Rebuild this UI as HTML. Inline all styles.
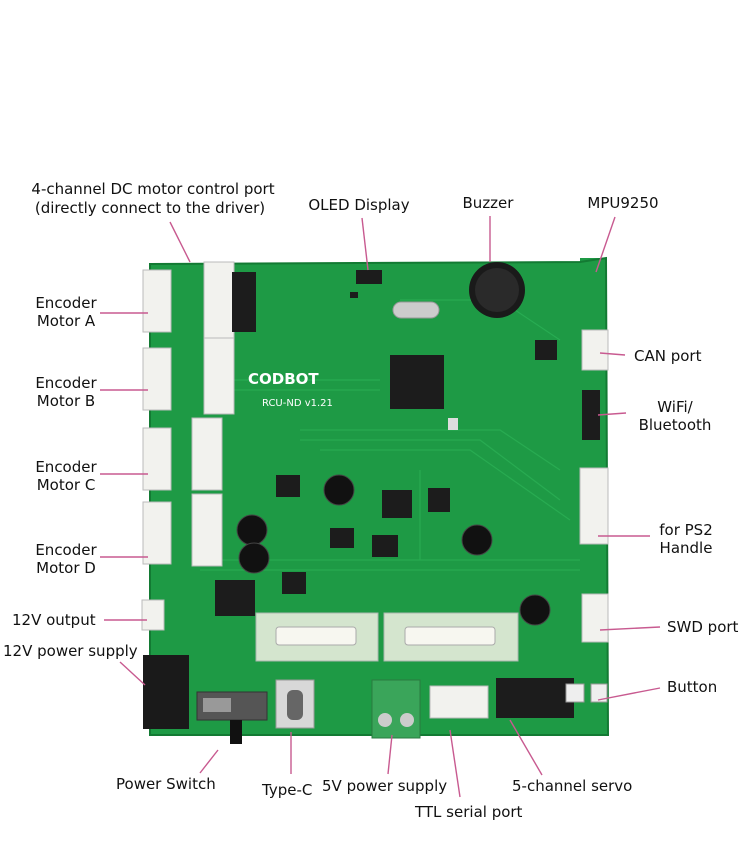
<!DOCTYPE html>
<html><head><meta charset="utf-8"><style>
html,body{margin:0;padding:0;background:#fff;}
svg{display:block}
text{font-family:"DejaVu Sans","Liberation Sans",sans-serif;font-size:15px;fill:#111}
</style></head><body>
<svg width="750" height="863" viewBox="0 0 750 863" xmlns="http://www.w3.org/2000/svg">
<rect width="750" height="863" fill="#fff"/>
<path d="M150 264 L580 262 L580 258 L606 258 L608 735 L150 735 Z" fill="#1e9a45"/>
<path d="M150 264 L580 262 L606 258 L608 735 L150 735 Z" fill="none" stroke="#137a33" stroke-width="2"/>
<g stroke="#2bb055" stroke-width="1.2" fill="none" opacity="0.8">
<path d="M300 430 L500 430 L560 470"/><path d="M300 440 L480 440 L560 500"/><path d="M320 450 L470 450 L570 520"/>
<path d="M220 380 L380 380"/><path d="M220 390 L380 390"/><path d="M400 300 L500 300 L560 340"/>
<path d="M200 560 L580 560"/><path d="M200 570 L580 570"/><path d="M420 470 L420 560"/>
</g>
<g fill="#f2f2ee" stroke="#bbb">
<rect x="143" y="270" width="28" height="62"/><rect x="143" y="348" width="28" height="62"/>
<rect x="143" y="428" width="28" height="62"/><rect x="143" y="502" width="28" height="62"/>
<rect x="204" y="262" width="30" height="76"/><rect x="204" y="338" width="30" height="76"/>
<rect x="192" y="418" width="30" height="72"/><rect x="192" y="494" width="30" height="72"/>
<rect x="142" y="600" width="22" height="30"/>
<rect x="582" y="330" width="26" height="40"/><rect x="580" y="468" width="28" height="76"/>
<rect x="582" y="594" width="26" height="48"/>
<rect x="430" y="686" width="58" height="32"/>
</g>
<g fill="#1c1c1c">
<rect x="390" y="355" width="54" height="54"/>
<rect x="535" y="340" width="22" height="20"/>
<rect x="276" y="475" width="24" height="22"/><rect x="330" y="528" width="24" height="20"/>
<rect x="372" y="535" width="26" height="22"/><rect x="382" y="490" width="30" height="28"/>
<rect x="215" y="580" width="40" height="36"/><rect x="282" y="572" width="24" height="22"/>
<rect x="428" y="488" width="22" height="24"/><rect x="232" y="272" width="24" height="60"/>
<rect x="496" y="678" width="78" height="40"/>
<rect x="582" y="390" width="18" height="50"/>
<rect x="356" y="270" width="26" height="14"/>
<rect x="350" y="292" width="8" height="6"/>
</g>
<circle cx="497" cy="290" r="28" fill="#1a1a1a"/><circle cx="497" cy="290" r="22" fill="#2a2a2a"/>
<rect x="393" y="302" width="46" height="16" rx="8" fill="#ccc" stroke="#999"/>
<g fill="#111" stroke="#444"><circle cx="252" cy="530" r="15"/><circle cx="254" cy="558" r="15"/><circle cx="339" cy="490" r="15"/><circle cx="477" cy="540" r="15"/><circle cx="535" cy="610" r="15"/></g>
<text x="248" y="384" style="font-size:15px;font-weight:bold;fill:#fff">CODBOT</text>
<text x="262" y="406" style="font-size:10px;fill:#fff">RCU-ND  v1.21</text>
<rect x="256" y="613" width="122" height="48" fill="#e8eedd" opacity="0.9" stroke="#bbb"/>
<rect x="384" y="613" width="134" height="48" fill="#e8eedd" opacity="0.9" stroke="#bbb"/>
<rect x="276" y="627" width="80" height="18" rx="3" fill="#f7f7f0" stroke="#aaa"/>
<rect x="405" y="627" width="90" height="18" rx="3" fill="#f7f7f0" stroke="#aaa"/>
<rect x="143" y="655" width="46" height="74" fill="#1a1a1a"/>
<rect x="197" y="692" width="70" height="28" fill="#555" stroke="#333"/><rect x="203" y="698" width="28" height="14" fill="#999"/>
<rect x="230" y="720" width="12" height="24" fill="#111"/>
<rect x="276" y="680" width="38" height="48" fill="#d8d8d8" stroke="#999"/><rect x="287" y="690" width="16" height="30" rx="6" fill="#666"/>
<rect x="372" y="680" width="48" height="58" fill="#3aa55a" stroke="#2a7a40"/>
<circle cx="385" cy="720" r="7" fill="#ccc"/><circle cx="407" cy="720" r="7" fill="#ccc"/>
<rect x="566" y="684" width="18" height="18" fill="#eee" stroke="#999"/><rect x="591" y="684" width="16" height="18" fill="#eee" stroke="#999"/>
<rect x="448" y="418" width="10" height="12" fill="#ddd"/>
<g stroke="#c85a90" stroke-width="1.4" fill="none">
<line x1="170" y1="222" x2="190" y2="262"/>
<line x1="362" y1="218" x2="368" y2="270"/>
<line x1="490" y1="216" x2="490" y2="262"/>
<line x1="615" y1="217" x2="596" y2="272"/>
<line x1="100" y1="313" x2="148" y2="313"/>
<line x1="100" y1="390" x2="148" y2="390"/>
<line x1="100" y1="474" x2="148" y2="474"/>
<line x1="100" y1="557" x2="148" y2="557"/>
<line x1="104" y1="620" x2="147" y2="620"/>
<line x1="120" y1="662" x2="145" y2="685"/>
<line x1="625" y1="355" x2="600" y2="353"/>
<line x1="626" y1="413" x2="598" y2="415"/>
<line x1="650" y1="536" x2="598" y2="536"/>
<line x1="660" y1="627" x2="600" y2="630"/>
<line x1="660" y1="688" x2="598" y2="700"/>
<line x1="200" y1="773" x2="218" y2="750"/>
<line x1="291" y1="774" x2="291" y2="732"/>
<line x1="388" y1="774" x2="392" y2="735"/>
<line x1="460" y1="797" x2="450" y2="730"/>
<line x1="542" y1="775" x2="510" y2="720"/>
</g>
<text x="153" y="194" text-anchor="middle">4-channel DC motor control port</text>
<text x="150" y="213" text-anchor="middle">(directly connect to the driver)</text>
<text x="359" y="210" text-anchor="middle">OLED Display</text>
<text x="488" y="208" text-anchor="middle">Buzzer</text>
<text x="623" y="208" text-anchor="middle">MPU9250</text>
<text x="66" y="308" text-anchor="middle">Encoder</text><text x="66" y="326" text-anchor="middle">Motor A</text>
<text x="66" y="388" text-anchor="middle">Encoder</text><text x="66" y="406" text-anchor="middle">Motor B</text>
<text x="66" y="472" text-anchor="middle">Encoder</text><text x="66" y="490" text-anchor="middle">Motor C</text>
<text x="66" y="555" text-anchor="middle">Encoder</text><text x="66" y="573" text-anchor="middle">Motor D</text>
<text x="12" y="625">12V output</text>
<text x="3" y="656">12V power supply</text>
<text x="634" y="361">CAN port</text>
<text x="675" y="412" text-anchor="middle">WiFi/</text><text x="675" y="430" text-anchor="middle">Bluetooth</text>
<text x="686" y="535" text-anchor="middle">for PS2</text><text x="686" y="553" text-anchor="middle">Handle</text>
<text x="667" y="632">SWD port</text>
<text x="667" y="692">Button</text>
<text x="116" y="789">Power Switch</text>
<text x="262" y="795">Type-C</text>
<text x="322" y="791">5V power supply</text>
<text x="512" y="791">5-channel servo</text>
<text x="415" y="817">TTL serial port</text>
</svg>
</body></html>
